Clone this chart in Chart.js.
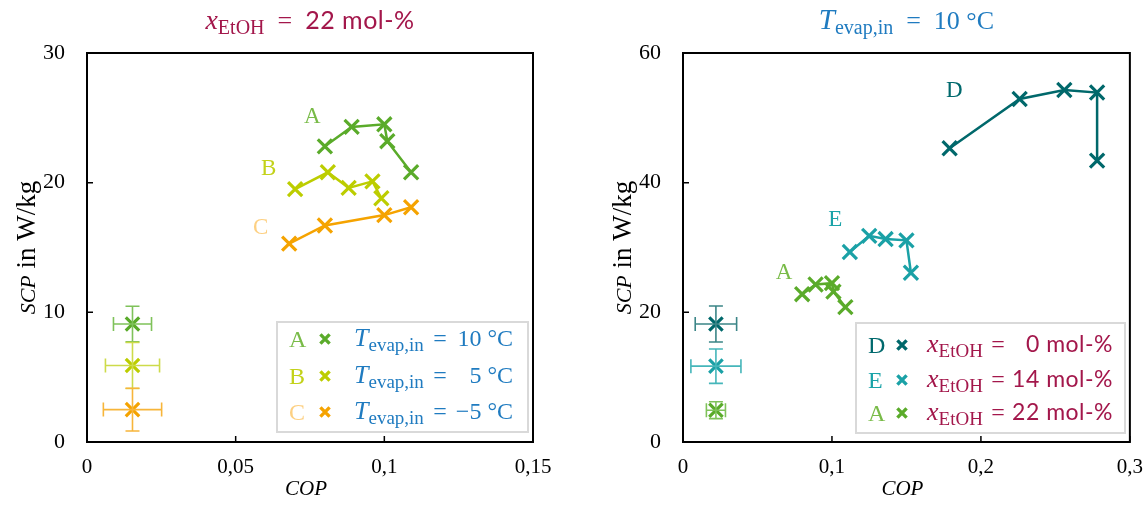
<!DOCTYPE html>
<html>
<head>
<meta charset="utf-8">
<script src="https://cdn.jsdelivr.net/npm/chart.js@4.4.1/dist/chart.umd.min.js"></script>
<style>
  html, body { margin: 0; padding: 0; background: #fff; }
  #wrap { position: relative; width: 1148px; height: 512px; }
  canvas { position: absolute; top: 0; }
  #left { left: 0; }
  #right { left: 574px; }
</style>
</head>
<body>
<div id="wrap">
  <canvas id="left" width="574" height="512"></canvas>
  <canvas id="right" width="574" height="512"></canvas>
</div>
<script>
// ---- measured series (COP, SCP in W/kg) ----
// A: x_EtOH = 22 mol-%, T_evap,in = 10 °C
const A_cop = [0.080, 0.089, 0.100, 0.101, 0.109];
const A_scp = [22.8, 24.3, 24.5, 23.2, 20.8];
// B: T_evap,in = 5 °C
const B_cop = [0.070, 0.081, 0.088, 0.096, 0.099];
const B_scp = [19.5, 20.8, 19.6, 20.1, 18.8];
// C: T_evap,in = -5 °C
const C_cop = [0.068, 0.080, 0.100, 0.109];
const C_scp = [15.3, 16.7, 17.5, 18.1];
// D: x_EtOH = 0 mol-%
const D_cop = [0.179, 0.226, 0.256, 0.278, 0.278];
const D_scp = [45.3, 52.9, 54.3, 53.9, 43.4];
// E: x_EtOH = 14 mol-%
const E_cop = [0.112, 0.125, 0.136, 0.150, 0.153];
const E_scp = [29.3, 31.8, 31.3, 31.1, 26.1];

// representative uncertainty markers (order: A, B, C / D, E, A)
const errL_cop = [0.0153, 0.0153, 0.0153];
const errL_scp = [9.1, 5.9, 2.5];
const errL_dCop = [0.0064, 0.0091, 0.0098];
const errL_dScp = [1.37, 1.77, 1.65];
const errR_cop = [0.0221, 0.0221, 0.0221];
const errR_scp = [18.2, 11.7, 4.9];
const errR_dCop = [0.0139, 0.0168, 0.0064];
const errR_dScp = [2.78, 2.65, 1.3];

// axis ranges and tick steps
const xTicksLeft = [0, 0.15, 0.05];
const yTicksLeft = [0, 30, 10];
const xTicksRight = [0, 0.3, 0.1];
const yTicksRight = [0, 60, 20];

// curve labels placed in data units
const labelsLeft = [['A', 0.0758, 25.06], ['B', 0.0611, 21.05], ['C', 0.0584, 16.5]];
const labelsRight = [['D', 0.1822, 54.1], ['E', 0.1023, 34.2], ['A', 0.0678, 26.0]];

const SERIF = '"Liberation Serif", "DejaVu Serif", serif';
const SANS = 'Lato, "Open Sans", sans-serif';

const COL = {
  A: '#5aab2a', B: '#bccd00', C: '#f5a300', D: '#00686b', E: '#1aa1a6',
  Aerr: '#7fc25a', Berr: '#cddb4a', Cerr: '#f7b53a', Derr: '#3b8587', Eerr: '#45b6ba',
  Alab: '#79bb48', Blab: '#c3d21a', Clab: '#fdd082', Dlab: '#00696d', Elab: '#1aa3a8',
  crimson: '#a3174b', blue: '#1f7bc0'
};

const pts = (xs, ys) => xs.map((x, i) => ({ x: x, y: ys[i] }));
const fmt = v => String(Number(v.toFixed(3))).replace('.', ',');

function runs(ctx, parts, x, y, align) {
  let w = 0;
  parts.forEach(p => { ctx.font = p.f; ctx.letterSpacing = p.ls || '0px'; p.w = ctx.measureText(p.t).width; w += p.w; });
  let sx = align === 'center' ? x - w / 2 : align === 'right' ? x - w : x;
  ctx.textAlign = 'left';
  ctx.textBaseline = 'alphabetic';
  parts.forEach(p => {
    ctx.font = p.f; ctx.fillStyle = p.c; ctx.letterSpacing = p.ls || '0px';
    ctx.fillText(p.t, sx, y + (p.dy || 0));
    sx += p.w;
  });
  ctx.letterSpacing = '0px';
}

function cross(ctx, x, y, half, color, lw) {
  ctx.save();
  ctx.strokeStyle = color; ctx.lineWidth = lw; ctx.lineCap = 'butt';
  ctx.beginPath();
  ctx.moveTo(x - half, y - half); ctx.lineTo(x + half, y + half);
  ctx.moveTo(x - half, y + half); ctx.lineTo(x + half, y - half);
  ctx.stroke();
  ctx.restore();
}

function seriesDS(label, xs, ys, color) {
  return {
    label: label, data: pts(xs, ys), showLine: true,
    borderColor: color, backgroundColor: color, borderWidth: 2.5,
    pointStyle: 'crossRot', pointRadius: 10, pointBorderWidth: 3.2,
    pointBorderColor: color, tension: 0
  };
}
function errDS(xs, ys, colors) {
  return {
    label: 'err', data: pts(xs, ys), showLine: false,
    pointStyle: 'crossRot', pointRadius: 9.5, pointBorderWidth: 3.2,
    pointBorderColor: colors, backgroundColor: colors
  };
}

// frame, inward ticks, error bars, labels, legend and titles
const decor = {
  id: 'decor',
  afterDatasetsDraw(chart, args, o) {
    const ctx = chart.ctx, a = chart.chartArea;
    const xs = chart.scales.x, ys = chart.scales.y;
    ctx.save();
    // error bars
    o.err.cop.forEach((c, i) => {
      const px = xs.getPixelForValue(c), py = ys.getPixelForValue(o.err.scp[i]);
      const x0 = xs.getPixelForValue(c - o.err.dCop[i]), x1 = xs.getPixelForValue(c + o.err.dCop[i]);
      const y0 = ys.getPixelForValue(o.err.scp[i] - o.err.dScp[i]), y1 = ys.getPixelForValue(o.err.scp[i] + o.err.dScp[i]);
      ctx.strokeStyle = o.err.colors[i]; ctx.lineWidth = 1.6;
      ctx.beginPath();
      ctx.moveTo(x0, py); ctx.lineTo(x1, py);
      ctx.moveTo(px, y0); ctx.lineTo(px, y1);
      ctx.moveTo(x0, py - 7); ctx.lineTo(x0, py + 7);
      ctx.moveTo(x1, py - 7); ctx.lineTo(x1, py + 7);
      ctx.moveTo(px - 7, y0); ctx.lineTo(px + 7, y0);
      ctx.moveTo(px - 7, y1); ctx.lineTo(px + 7, y1);
      ctx.stroke();
    });
    // frame
    ctx.strokeStyle = '#000'; ctx.lineWidth = 2;
    ctx.strokeRect(a.left, a.top, a.right - a.left, a.bottom - a.top);
    // inward tick marks
    ctx.lineWidth = 1.5;
    ctx.beginPath();
    xs.ticks.forEach(t => { const p = xs.getPixelForValue(t.value); ctx.moveTo(p, a.bottom); ctx.lineTo(p, a.bottom - 6); });
    ys.ticks.forEach(t => { const p = ys.getPixelForValue(t.value); ctx.moveTo(a.left, p); ctx.lineTo(a.left + 6, p); });
    ctx.stroke();
    // curve labels
    ctx.font = '23px ' + SERIF; ctx.textAlign = 'center'; ctx.textBaseline = 'middle';
    o.labels.forEach(l => {
      ctx.fillStyle = o.labelColors[l[0]];
      ctx.fillText(l[0], xs.getPixelForValue(l[1]), ys.getPixelForValue(l[2]));
    });
    // legend box
    const L = o.legend;
    ctx.fillStyle = '#fff'; ctx.fillRect(L.box[0], L.box[1], L.box[2], L.box[3]);
    ctx.strokeStyle = '#d9d9d9'; ctx.lineWidth = 2;
    ctx.strokeRect(L.box[0], L.box[1], L.box[2], L.box[3]);
    L.rows.forEach(r => {
      ctx.font = '24px ' + SERIF; ctx.fillStyle = r.lc; ctx.textAlign = 'left'; ctx.textBaseline = 'alphabetic';
      ctx.fillText(r.letter, L.letterX, r.y + 8);
      cross(ctx, L.markX, r.y, 4.6, r.mc, 3.4);
      runs(ctx, r.name, L.nameX, r.y + 7, 'left');
      runs(ctx, [{ t: '=', f: '24px ' + SERIF, c: L.color }], L.eqX, r.y + 7, 'center');
      runs(ctx, r.val, L.valX, r.y + 7, 'right');
    });
    // axis titles
    const cx = (a.left + a.right) / 2, cy = (a.top + a.bottom) / 2;
    runs(ctx, [{ t: 'COP', f: 'italic 21px ' + SERIF, c: '#000' }], cx - 4, 495, 'center');
    ctx.save();
    ctx.translate(o.yTitleX, cy); ctx.rotate(-Math.PI / 2);
    runs(ctx, [{ t: 'SCP', f: 'italic 22px ' + SERIF, c: '#000' }, { t: ' in W/kg', f: '27px ' + SERIF, c: '#000' }], 0, 8, 'center');
    ctx.restore();
    // panel title
    runs(ctx, o.title, cx, 29, 'center');
    ctx.restore();
  }
};

function makeChart(id, datasets, xr, yr, yWidth, padRight, opts) {
  return new Chart(document.getElementById(id), {
    type: 'scatter',
    data: { datasets: datasets },
    options: {
      responsive: false, animation: false, events: [],
      layout: { padding: { top: 53, right: padRight, bottom: 0, left: 0 } },
      plugins: { legend: { display: false }, tooltip: { enabled: false }, decor: opts },
      scales: {
        x: {
          type: 'linear', min: xr[0], max: xr[1],
          grid: { display: false }, border: { display: false },
          ticks: { stepSize: xr[2], padding: 5, color: '#000', font: { family: SERIF, size: 21 }, callback: v => fmt(v), maxRotation: 0 },
          afterFit: s => { s.height = 70; }
        },
        y: {
          type: 'linear', min: yr[0], max: yr[1],
          grid: { display: false }, border: { display: false },
          ticks: { stepSize: yr[2], padding: 14, color: '#000', font: { family: SERIF, size: 22 }, callback: v => fmt(v) },
          afterFit: s => { s.width = yWidth; }
        }
      }
    },
    plugins: [decor]
  });
}

const subF = '20px ' + SERIF;
const legSubF = '19px ' + SERIF;

makeChart('left', [
  seriesDS('A', A_cop, A_scp, COL.A),
  seriesDS('B', B_cop, B_scp, COL.B),
  seriesDS('C', C_cop, C_scp, COL.C),
  errDS(errL_cop, errL_scp, [COL.A, COL.B, COL.C])
], xTicksLeft, yTicksLeft, 87, 41, {
  err: { cop: errL_cop, scp: errL_scp, dCop: errL_dCop, dScp: errL_dScp, colors: [COL.Aerr, COL.Berr, COL.Cerr] },
  labels: labelsLeft,
  labelColors: { A: COL.Alab, B: COL.Blab, C: COL.Clab },
  yTitleX: 27,
  title: [
    { t: 'x', f: 'italic 28px ' + SERIF, c: COL.crimson },
    { t: 'EtOH', f: subF, c: COL.crimson, dy: 5 },
    { t: '  =  ', f: '26px ' + SERIF, c: COL.crimson },
    { t: '22 mol-%', f: '25px ' + SANS, c: COL.crimson, ls: '0.5px' }
  ],
  legend: {
    box: [277, 322, 251, 110], letterX: 289, markX: 325, nameX: 354, eqX: 440, valX: 513, color: COL.blue,
    rows: [
      { letter: 'A', lc: COL.Alab, mc: COL.A, y: 339, val: [{ t: '10 °C', f: '24px ' + SERIF, c: COL.blue }] },
      { letter: 'B', lc: COL.Blab, mc: COL.B, y: 376, val: [{ t: '5 °C', f: '24px ' + SERIF, c: COL.blue }] },
      { letter: 'C', lc: COL.Clab, mc: COL.C, y: 412, val: [{ t: '\u22125 °C', f: '24px ' + SERIF, c: COL.blue }] }
    ].map(r => Object.assign(r, { name: [
      { t: 'T', f: 'italic 26px ' + SERIF, c: COL.blue },
      { t: 'evap,in', f: legSubF, c: COL.blue, dy: 5 }
    ] }))
  }
});

makeChart('right', [
  seriesDS('D', D_cop, D_scp, COL.D),
  seriesDS('E', E_cop, E_scp, COL.E),
  seriesDS('A', A_cop, A_scp, COL.A),
  errDS(errR_cop, errR_scp, [COL.D, COL.E, COL.A])
], xTicksRight, yTicksRight, 109, 17, {
  err: { cop: errR_cop, scp: errR_scp, dCop: errR_dCop, dScp: errR_dScp, colors: [COL.Derr, COL.Eerr, COL.Aerr] },
  labels: labelsRight,
  labelColors: { A: COL.Alab, D: COL.Dlab, E: COL.Elab },
  yTitleX: 49,
  title: [
    { t: 'T', f: 'italic 29px ' + SERIF, c: COL.blue },
    { t: 'evap,in', f: subF, c: COL.blue, dy: 5 },
    { t: '  =  10 °C', f: '26px ' + SERIF, c: COL.blue }
  ],
  legend: {
    box: [282, 323, 269, 110], letterX: 294, markX: 328, nameX: 353, eqX: 424, valX: 539, color: COL.crimson,
    rows: [
      { letter: 'D', lc: COL.Dlab, mc: COL.D, y: 345, v: '0 mol-%' },
      { letter: 'E', lc: COL.Elab, mc: COL.E, y: 380, v: '14 mol-%' },
      { letter: 'A', lc: COL.Alab, mc: COL.A, y: 413, v: '22 mol-%' }
    ].map(r => Object.assign(r, {
      name: [
        { t: 'x', f: 'italic 26px ' + SERIF, c: COL.crimson },
        { t: 'EtOH', f: legSubF, c: COL.crimson, dy: 5 }
      ],
      val: [{ t: r.v, f: '23px ' + SANS, c: COL.crimson, ls: '0.5px' }]
    }))
  }
});
</script>
</body>
</html>
